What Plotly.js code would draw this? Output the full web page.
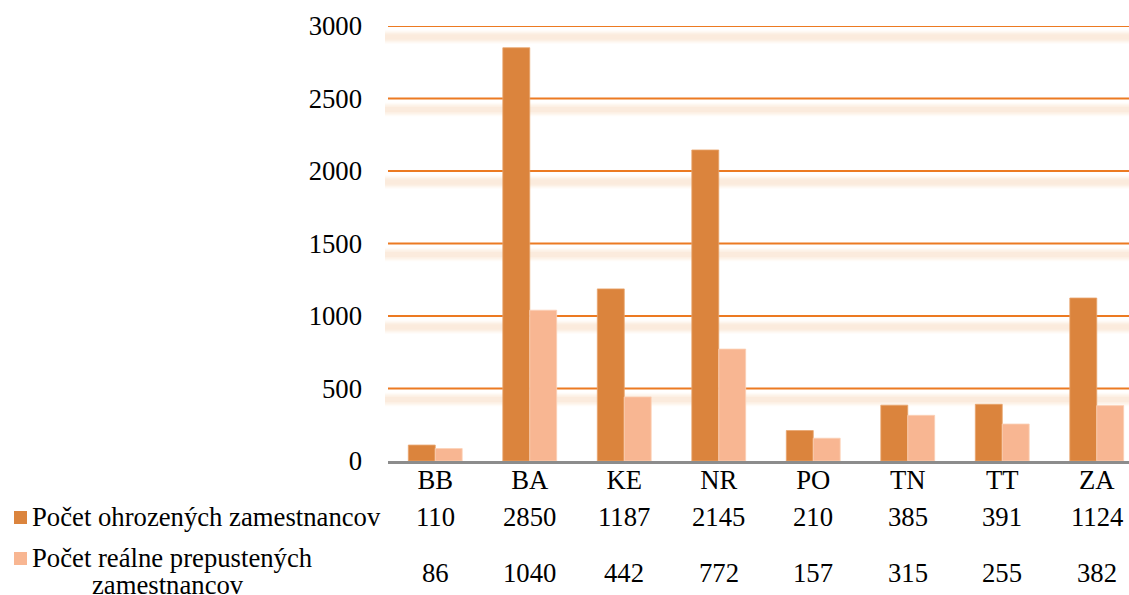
<!DOCTYPE html>
<html>
<head>
<meta charset="utf-8">
<script src="https://cdn.plot.ly/plotly-3.0.1.min.js"></script>
<style>html,body{margin:0;padding:0;background:#fff;}#chart{width:1129px;height:595px;}</style>
</head>
<body>
<div id="chart"></div>
<script>
const categories = ["BB", "BA", "KE", "NR", "PO", "TN", "TT", "ZA"];
const seriesNames = ["Počet ohrozených zamestnancov", "Počet reálne prepustených<br>zamestnancov"];
const ohrozeni = [110, 2850, 1187, 2145, 210, 385, 391, 1124];
const prepusteni = [86, 1040, 442, 772, 157, 315, 255, 382];
const yTicks = [0, 500, 1000, 1500, 2000, 2500, 3000];

const W = 1129, H = 595;
const L = 388, T = 26, B = 461;           // plot area in pixels
const PW = W - L, PH = B - T;
const px = x => (x - L) / PW;             // pixel -> paper x
const py = y => (B - y) / PH;             // pixel -> paper y
const unitsPerPx = 3000 / PH;

const darkColor = "#DB843D";
const lightColor = "#F8B692";
const gridColor = "#EC7A22";
const FONT = "'Liberation Serif', 'Times New Roman', Times, serif";
const FS = 26.7;

const traces = [
  {type: "bar", x: categories, y: ohrozeni, name: seriesNames[0],
   marker: {color: darkColor, line: {color: "#E9A36C", width: 0.8}}},
  {type: "bar", x: categories, y: prepusteni, name: seriesNames[1],
   marker: {color: lightColor, line: {color: "#FBD0B6", width: 0.8}}}
];

const shapes = [];
// gridlines and their soft shadows
yTicks.filter(v => v > 0).forEach(v => {
  const bands = [[14, 0.035], [12, 0.045], [10, 0.055], [8, 0.065], [5, 0.07]];
  bands.forEach(([h, op]) => {
    shapes.push({type: "rect", xref: "paper", yref: "y", x0: px(385), x1: 1,
      y0: v - (11 + h / 2) * unitsPerPx, y1: v - (11 - h / 2) * unitsPerPx,
      fillcolor: "#F2B07E", opacity: op, line: {width: 0}, layer: "below"});
  });
  shapes.push({type: "line", xref: "paper", yref: "y", x0: 0, x1: 1, y0: v, y1: v,
    line: {color: gridColor, width: 2}, layer: "below"});
});
// legend keys in the data table
shapes.push({type: "rect", xref: "paper", yref: "paper", x0: px(14), x1: px(27), y0: py(524), y1: py(511),
  fillcolor: darkColor, line: {width: 0}});
shapes.push({type: "rect", xref: "paper", yref: "paper", x0: px(14), x1: px(27), y0: py(565), y1: py(552),
  fillcolor: lightColor, line: {width: 0}});

const annotations = [];
const txtFont = {family: FONT, size: FS, color: "#000"};
const rows = [ohrozeni, prepusteni];
const rowY = [517, 573];
rows.forEach((vals, r) => {
  vals.forEach((v, i) => {
    annotations.push({xref: "x", yref: "paper", x: categories[i], y: py(rowY[r]),
      text: String(v), showarrow: false, xanchor: "center", yanchor: "middle", font: txtFont});
  });
});
annotations.push({xref: "paper", yref: "paper", x: px(30), y: py(517), text: seriesNames[0],
  showarrow: false, xanchor: "left", yanchor: "middle", align: "left", font: txtFont});
const name2 = seriesNames[1].split("<br>");
annotations.push({xref: "paper", yref: "paper", x: px(30), y: py(558), text: name2[0],
  showarrow: false, xanchor: "left", yanchor: "middle", align: "left", font: txtFont});
annotations.push({xref: "paper", yref: "paper", x: px(168), y: py(585), text: name2[1],
  showarrow: false, xanchor: "center", yanchor: "middle", align: "center", font: txtFont});

const layout = {
  width: W, height: H,
  margin: {l: L, r: 0, t: T, b: H - B, pad: 0},
  paper_bgcolor: "#fff", plot_bgcolor: "rgba(0,0,0,0)",
  showlegend: false,
  barmode: "group", bargap: 0.43, bargroupgap: 0,
  font: txtFont,
  xaxis: {range: [-0.5, -0.5 + PW / 94.5], showgrid: false, zeroline: false,
    showline: true, linecolor: "#8C8C8C", linewidth: 2.5, ticks: "", ticklabelstandoff: -7,
    tickfont: txtFont, fixedrange: true},
  yaxis: {range: [0, 3000], tickvals: yTicks, showgrid: false,
    zeroline: false, showline: false, ticks: "", ticklabelstandoff: 25,
    tickfont: txtFont, fixedrange: true},
  shapes: shapes,
  annotations: annotations
};

Plotly.newPlot("chart", traces, layout, {staticPlot: true, displayModeBar: false});
</script>
</body>
</html>
